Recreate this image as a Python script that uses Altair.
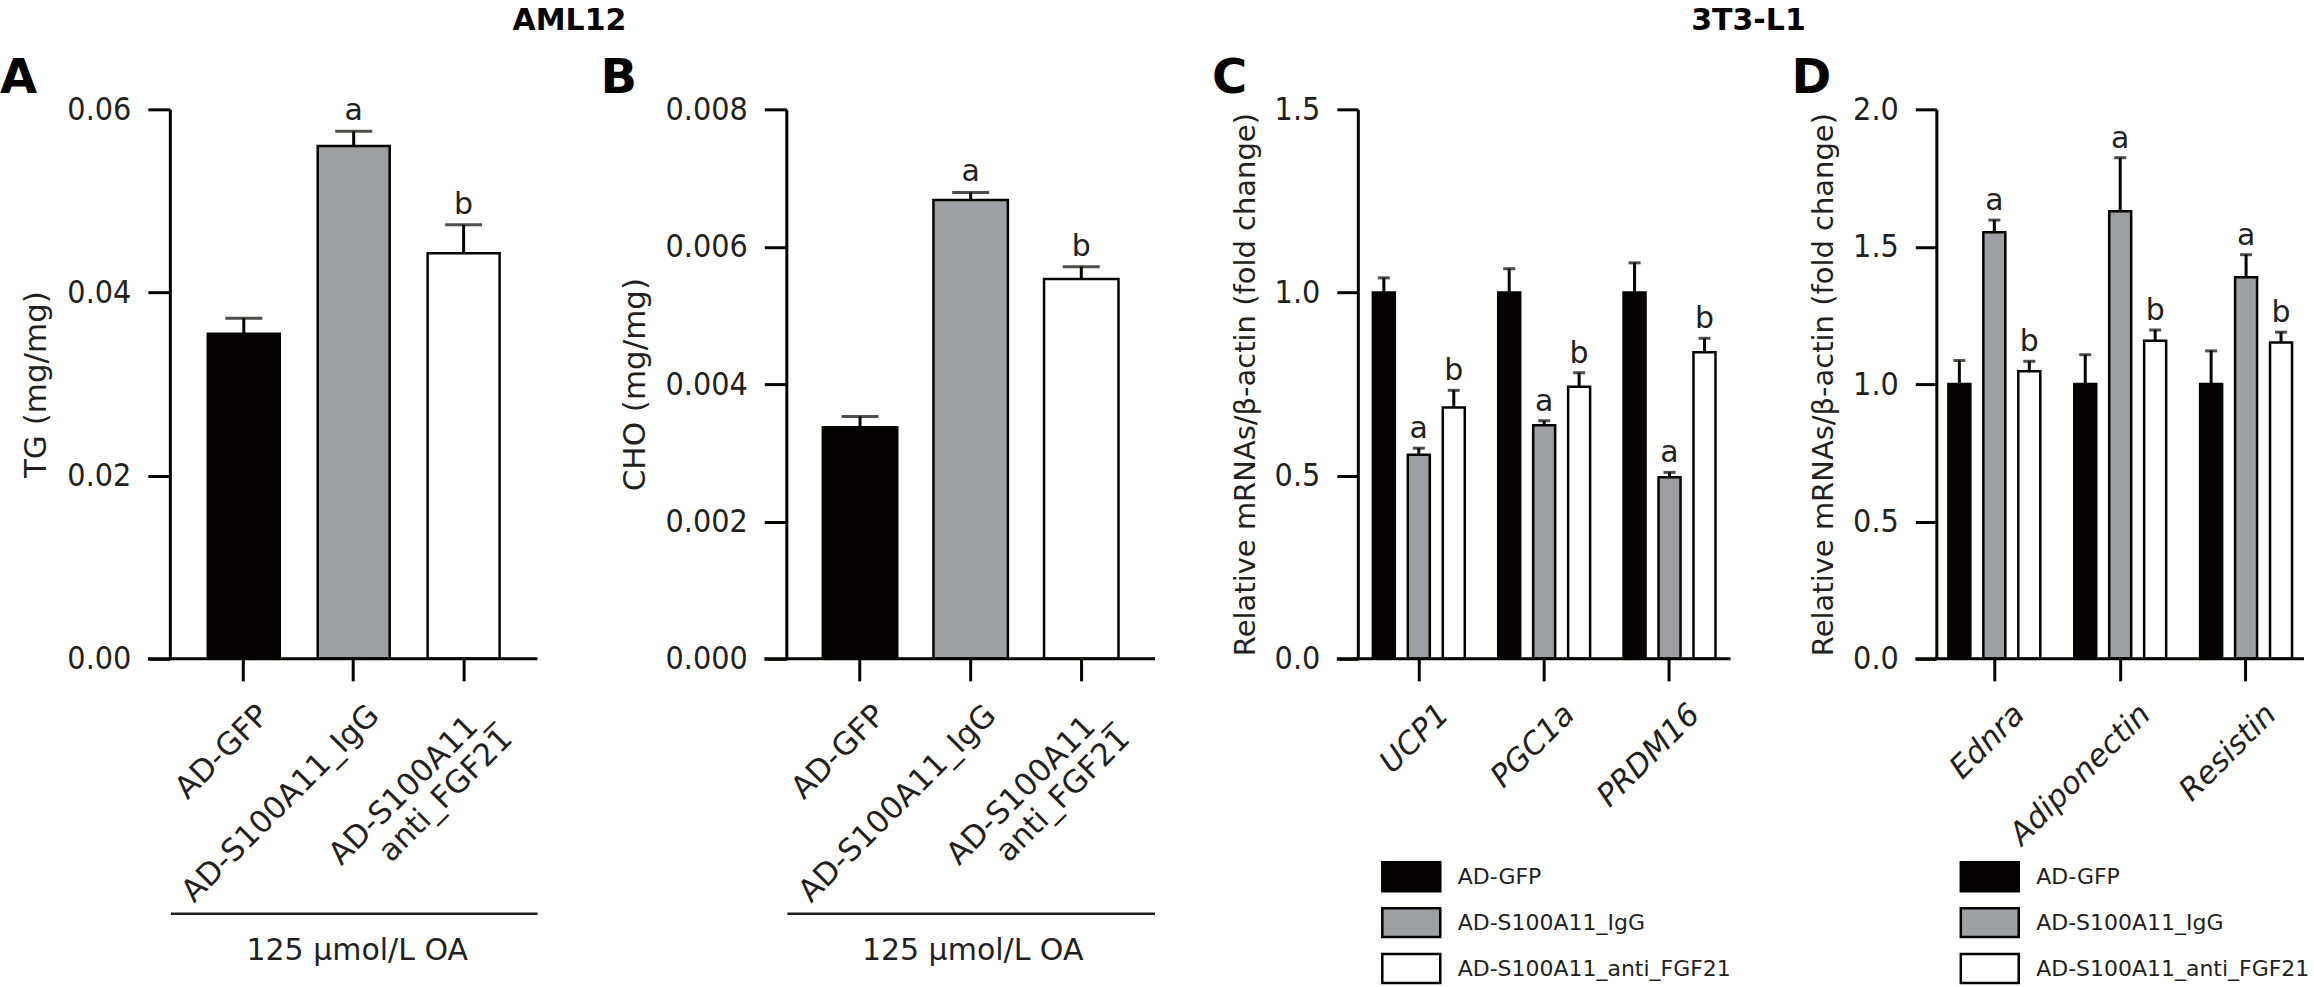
import altair as alt
import pandas as pd

# ---------------- data ----------------
groups = ["AD-GFP", "AD-S100A11_IgG", "AD-S100A11_anti_FGF21"]
group_colors = ["#050202", "#9d9fa3", "#ffffff"]
sig_letters = ["", "a", "b"]

# Panel A (AML12, TG)
tg_mean = [0.0355, 0.0560, 0.0443]
tg_err = [0.0017, 0.0016, 0.0031]

# Panel B (AML12, CHO)
cho_mean = [0.00337, 0.00668, 0.00553]
cho_err = [0.00016, 0.00011, 0.00018]

# Panel C (3T3-L1, thermogenic genes)
genes_c = ["UCP1", "PGC1a", "PRDM16"]
c_gfp = [1.0, 1.0, 1.0]
c_gfp_err = [0.040, 0.065, 0.081]
c_igg = [0.557, 0.638, 0.496]
c_igg_err = [0.018, 0.012, 0.013]
c_anti = [0.686, 0.743, 0.837]
c_anti_err = [0.047, 0.038, 0.038]

# Panel D (3T3-L1, adipokines)
genes_d = ["Ednra", "Adiponectin", "Resistin"]
d_gfp = [1.0, 1.0, 1.0]
d_gfp_err = [0.086, 0.107, 0.121]
d_igg = [1.553, 1.629, 1.389]
d_igg_err = [0.044, 0.195, 0.082]
d_anti = [1.047, 1.158, 1.151]
d_anti_err = [0.036, 0.039, 0.038]

INK = "#231f20"
BLK = "#050202"
FONT = "DejaVu Sans"
CFONT = "DejaVu Sans Condensed, DejaVu Sans"
H = 550


def one_row():
    return alt.Chart(pd.DataFrame({"k": [0]}))


def letter_mark(letter, dx):
    return one_row().mark_text(
        text=letter, font=FONT, fontSize=48, fontWeight="bold", color=BLK,
        align="left", baseline="alphabetic",
    ).encode(x=alt.value(dx), y=alt.value(-16))


def heading_mark(text, cx):
    return one_row().mark_text(
        text=text, font=FONT, fontSize=30, fontWeight="bold", color=BLK,
        align="center", baseline="alphabetic",
    ).encode(x=alt.value(cx), y=alt.value(-79))


def single_panel(vals, errs, ytitle, ticks, fmt, W, data_w, pi, po, cap,
                 oa_x, letter, letter_dx, heading=None, heading_x=0):
    df = pd.DataFrame({
        "group": groups,
        "value": vals,
        "top": [v + e for v, e in zip(vals, errs)],
        "sig": sig_letters,
    })
    xscale = alt.Scale(domain=groups, paddingInner=pi, paddingOuter=po, range=[0, data_w])
    xaxis = alt.Axis(
        title="125 \u03bcmol/L OA", titleY=301, titleX=oa_x, titleAlign="center",
        titleBaseline="alphabetic",
        titleFont=FONT, titleFontSize=30, titleFontWeight="normal",
        labelAngle=-45, labelAlign="right", labelBaseline="top",
        labelFont=FONT, labelFontSize=31, labelPadding=19, labelOffset=10, labelLimit=600,
        labelLineHeight=33,
        labelExpr="datum.label == 'AD-S100A11_anti_FGF21' ? ['AD-S100A11_', 'anti_FGF21'] : datum.label",
        tickSize=22, labelOverlap=False, domain=False,
    )
    yscale = alt.Scale(domain=[0, ticks[-1]], nice=False, zero=True)
    yaxis = alt.Axis(
        values=ticks, format=fmt, title=ytitle, titleFont=FONT, titleFontSize=31,
        titleFontWeight="normal", titlePadding=14, labelFont=CFONT, labelFontSize=32,
        labelPadding=17, tickSize=22,
    )
    X = alt.X("group:N", sort=groups, scale=xscale, axis=xaxis)
    base = alt.Chart(df)
    bars = base.mark_bar(stroke=BLK, strokeWidth=2.5).encode(
        x=X,
        y=alt.Y("value:Q", scale=yscale, axis=yaxis),
        fill=alt.Fill("group:N", scale=alt.Scale(domain=groups, range=group_colors), legend=None),
    )
    err = base.mark_rule(color=BLK, strokeWidth=3).encode(
        x=X, y=alt.Y("value:Q", scale=yscale, axis=yaxis), y2="top:Q"
    )
    caps = base.mark_tick(color=BLK, thickness=3, size=cap).encode(
        x=X, y=alt.Y("top:Q", scale=yscale, axis=yaxis)
    )
    txt = base.mark_text(font=FONT, fontSize=30, color=INK, baseline="alphabetic", dy=-11).encode(
        x=X, y=alt.Y("top:Q", scale=yscale, axis=yaxis), text="sig:N"
    )
    xline = one_row().mark_rule(color=BLK, strokeWidth=3).encode(
        x=alt.value(-22), x2=alt.value(data_w), y=alt.value(H)
    )
    oaline = one_row().mark_rule(color=INK, strokeWidth=2.5).encode(
        x=alt.value(1), x2=alt.value(data_w), y=alt.value(805)
    )
    layers = [bars, err, caps, txt, xline, oaline, letter_mark(letter, letter_dx)]
    if heading:
        layers.append(heading_mark(heading, heading_x))
    return alt.layer(*layers).properties(width=W, height=H)


def grouped_panel(genes, gfp, gfp_e, igg, igg_e, anti, anti_e, ticks, W, data_w, pi, po,
                  letter, letter_dx, heading=None, heading_x=0):
    rows = []
    for i, g in enumerate(genes):
        for grp, m, e, s in zip(groups, [gfp[i], igg[i], anti[i]], [gfp_e[i], igg_e[i], anti_e[i]], sig_letters):
            rows.append({"gene": g, "group": grp, "value": m, "top": m + e, "sig": s})
    df = pd.DataFrame(rows)
    xscale = alt.Scale(domain=genes, paddingInner=pi, paddingOuter=po, range=[0, data_w])
    xaxis = alt.Axis(
        title=None, labelAngle=-45, labelAlign="right", labelBaseline="top",
        labelFont=FONT, labelFontSize=31, labelFontStyle="italic", labelPadding=18,
        labelOffset=15, labelLimit=600, tickSize=22, labelOverlap=False, domain=False,
    )
    yscale = alt.Scale(domain=[0, ticks[-1]], nice=False, zero=True)
    yaxis = alt.Axis(
        values=ticks, format=".1f", title="Relative mRNAs/\u03b2-actin (fold change)",
        titleFont=FONT, titleFontSize=29, titleFontWeight="normal", titlePadding=14,
        labelFont=CFONT, labelFontSize=32, labelPadding=17, tickSize=21,
    )
    X = alt.X("gene:N", sort=genes, scale=xscale, axis=xaxis)
    XO = alt.XOffset("group:N", sort=groups,
                     scale=alt.Scale(domain=groups, paddingInner=0.371, paddingOuter=0.186))
    base = alt.Chart(df)
    bars = base.mark_bar(stroke=BLK, strokeWidth=2.5).encode(
        x=X, xOffset=XO,
        y=alt.Y("value:Q", scale=yscale, axis=yaxis),
        fill=alt.Fill(
            "group:N", sort=groups,
            scale=alt.Scale(domain=groups, range=group_colors),
            legend=alt.Legend(
                orient="none", legendX=37.5, legendY=752, title=None,
                symbolType="M-2,-1H2V1H-2Z", symbolSize=841,
                symbolStrokeColor=BLK, symbolStrokeWidth=2.5,
                labelFont=FONT, labelFontSize=22, labelColor=INK,
                labelOffset=30.5, rowPadding=6, padding=0, labelLimit=600,
            ),
        ),
    )
    err = base.mark_rule(color=BLK, strokeWidth=3).encode(
        x=X, xOffset=XO, y=alt.Y("value:Q", scale=yscale, axis=yaxis), y2="top:Q"
    )
    caps = base.mark_tick(color=BLK, thickness=3, size=12).encode(
        x=X, xOffset=XO, y=alt.Y("top:Q", scale=yscale, axis=yaxis)
    )
    txt = base.mark_text(font=FONT, fontSize=30, color=INK, baseline="alphabetic", dy=-10).encode(
        x=X, xOffset=XO, y=alt.Y("top:Q", scale=yscale, axis=yaxis), text="sig:N"
    )
    xline = one_row().mark_rule(color=BLK, strokeWidth=3).encode(
        x=alt.value(-21), x2=alt.value(data_w), y=alt.value(H)
    )
    layers = [bars, err, caps, txt, xline, letter_mark(letter, letter_dx)]
    if heading:
        layers.append(heading_mark(heading, heading_x))
    return alt.layer(*layers).properties(width=W, height=H)


pA = single_panel(tg_mean, tg_err, "TG (mg/mg)", [0, 0.02, 0.04, 0.06], ".2f",
                  617, 368, 0.345, 0.345, 37, 187, "A", -170, "AML12", 400)
pB = single_panel(cho_mean, cho_err, "CHO (mg/mg)", [0, 0.002, 0.004, 0.006, 0.008], ".3f",
                  572, 369, 0.327, 0.33, 37, 186, "B", -186)
pC = grouped_panel(genes_c, c_gfp, c_gfp_err, c_igg, c_igg_err, c_anti, c_anti_err,
                   [0, 0.5, 1.0, 1.5], 579, 373, 0.163, 0.068, "C", -146, "3T3-L1", 391)
pD = grouped_panel(genes_d, d_gfp, d_gfp_err, d_igg, d_igg_err, d_anti, d_anti_err,
                   [0, 0.5, 1.0, 1.5, 2.0], 368, 368, 0.167, 0.044, "D", -145)

chart = alt.hconcat(pA, pB, pC, pD, spacing=0, bounds="flush").resolve_scale(
    fill="independent"
).properties(
    padding={"left": 0, "top": 6, "right": 4, "bottom": 4},
).configure(background="white").configure_view(stroke=None).configure_axis(
    domainColor=BLK, tickColor=BLK, labelColor=INK, titleColor=INK,
    grid=False, domainWidth=3, tickWidth=3,
)

chart.save("out.html", embed_options={"renderer": "svg", "actions": False})
